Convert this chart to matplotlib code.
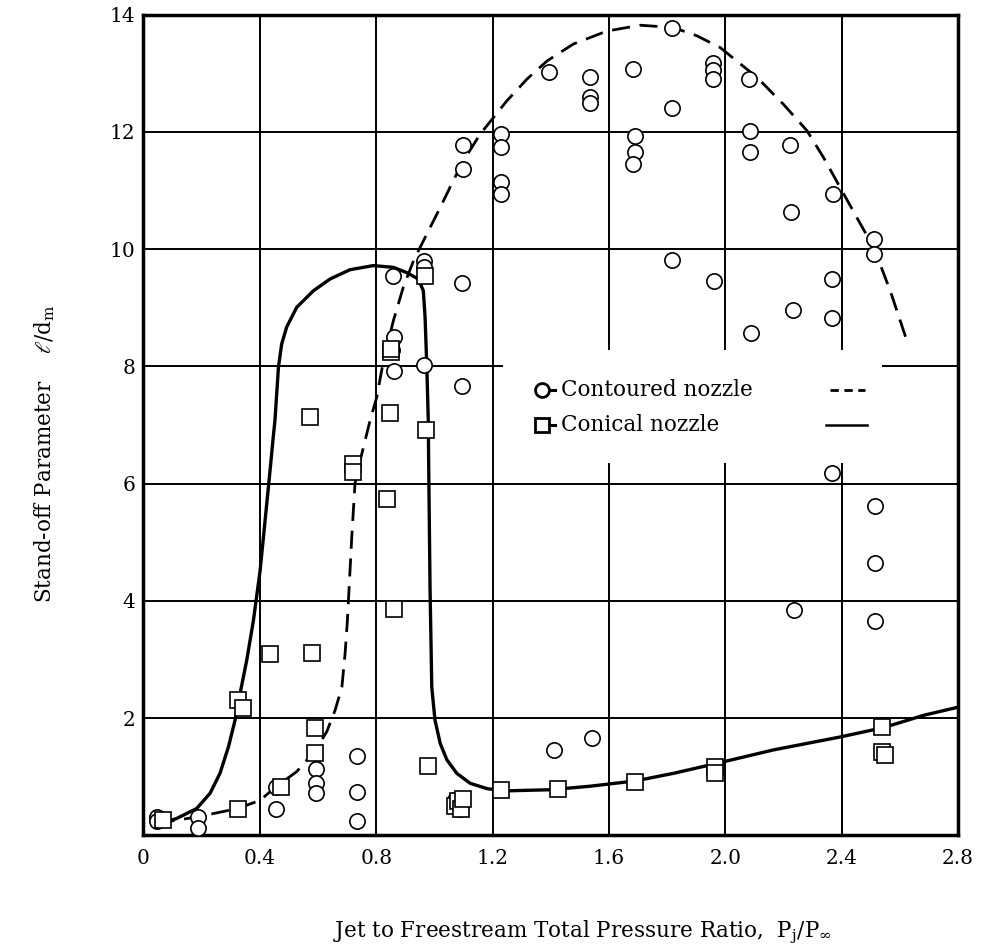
import matplotlib.pyplot as plt
from matplotlib.patches import Rectangle

plt.rcParams['font.family'] = 'DejaVu Serif'
plt.rcParams['mathtext.fontset'] = 'dejavuserif'

# contoured nozzle (circles)
cont_x = [0.045, 0.045, 0.188, 0.188, 0.455, 0.455, 0.592, 0.592, 0.592, 0.733, 0.733, 0.733,
          0.859, 0.862, 0.855, 0.862, 0.965, 0.965, 0.965, 1.077, 1.085, 1.07,
          1.097, 1.097, 1.096, 1.096, 1.228, 1.228, 1.228, 1.228, 1.394, 1.412,
          1.535, 1.535, 1.535, 1.543, 1.683, 1.689, 1.689, 1.683, 1.816, 1.816, 1.818,
          1.959, 1.959, 1.959, 1.96, 2.082, 2.084, 2.084, 2.088, 2.223, 2.227, 2.232, 2.237,
          2.369, 2.367, 2.367, 2.367, 2.51, 2.51, 2.515, 2.515, 2.515]
cont_y = [0.32, 0.24, 0.32, 0.12, 0.83, 0.45, 1.14, 0.89, 0.73, 1.36, 0.75, 0.24,
          9.55, 8.51, 8.28, 7.93, 9.80, 9.69, 8.03, 0.55, 0.45, 0.60,
          11.77, 11.37, 9.42, 7.66, 11.97, 11.75, 11.14, 10.94, 13.03, 1.46,
          12.94, 12.59, 12.50, 1.66, 13.07, 11.93, 11.65, 11.45, 13.78, 12.40, 9.82,
          13.17, 13.06, 12.90, 9.46, 12.90, 12.02, 11.65, 8.57, 11.78, 10.64, 8.96, 3.84,
          10.94, 9.49, 8.82, 6.19, 10.18, 9.91, 5.62, 4.65, 3.65]

# conical nozzle (squares)
coni_x = [0.068, 0.324, 0.326, 0.341, 0.435, 0.472, 0.573, 0.578, 0.59, 0.59,
          0.721, 0.721, 0.836, 0.849, 0.852, 0.852, 0.861, 0.968, 0.970, 0.979,
          1.07, 1.08, 1.09, 1.10, 1.229, 1.424, 1.69, 1.963, 1.963, 2.538, 2.538, 2.55]
coni_y = [0.27, 0.45, 2.31, 2.17, 3.10, 0.83, 7.13, 3.12, 1.84, 1.40,
          6.34, 6.20, 5.74, 7.20, 8.24, 8.30, 3.86, 9.55, 6.91, 1.18,
          0.50, 0.58, 0.45, 0.62, 0.78, 0.80, 0.91, 1.17, 1.07, 1.85, 1.43, 1.37]

# faired curves
cont_curve_x = [0.045, 0.114, 0.188, 0.324, 0.401, 0.455, 0.527, 0.592, 0.63, 0.659, 0.682,
                0.693, 0.701, 0.71, 0.716, 0.727, 0.745, 0.756, 0.779, 0.802, 0.825, 0.859,
                0.893, 0.928, 0.962, 1.02, 1.065, 1.10, 1.157, 1.249, 1.318, 1.387,
                1.478, 1.593, 1.707, 1.822, 1.902, 1.982, 2.109, 2.2, 2.281, 2.338, 2.395,
                2.452, 2.51, 2.567, 2.624]
cont_curve_y = [0.21, 0.26, 0.32, 0.46, 0.60, 0.83, 1.09, 1.46, 1.77, 2.14, 2.53,
                3.10, 3.67, 4.52, 5.09, 6.0, 6.40, 6.62, 7.08, 7.48, 8.10, 8.78,
                9.35, 9.80, 10.14, 10.71, 11.17, 11.51, 11.96, 12.53, 12.90, 13.21,
                13.5, 13.72, 13.82, 13.78, 13.64, 13.44, 12.93, 12.47, 12.02, 11.56, 11.05,
                10.54, 10.03, 9.29, 8.44]

coni_curve_x = [0.045, 0.114, 0.183, 0.229, 0.263, 0.292, 0.315, 0.332, 0.355, 0.378, 0.401,
                0.418, 0.435, 0.446, 0.452, 0.464, 0.475, 0.492, 0.527, 0.584, 0.641, 0.71,
                0.79, 0.859, 0.905, 0.945, 0.962, 0.968, 0.974, 0.979, 0.98, 0.985, 0.991,
                1.002, 1.02, 1.043, 1.077, 1.123, 1.18, 1.237, 1.398, 1.535, 1.69, 1.822,
                1.971, 2.166, 2.395, 2.544, 2.682, 2.802]
coni_curve_y = [0.18, 0.29, 0.46, 0.72, 1.06, 1.51, 1.97, 2.42, 2.99, 3.67, 4.52,
                5.37, 6.22, 6.79, 7.08, 7.99, 8.38, 8.67, 9.01, 9.29, 9.49, 9.65,
                9.72, 9.69, 9.60, 9.49, 9.29, 8.84, 7.99, 7.08, 6.51, 4.24, 2.53,
                1.97, 1.57, 1.29, 1.06, 0.89, 0.80, 0.76, 0.78, 0.84, 0.93, 1.06,
                1.23, 1.46, 1.68, 1.84, 2.05, 2.19]

xticks = [0, 0.4, 0.8, 1.2, 1.6, 2.0, 2.4, 2.8]
xticklabels = ['0', '0.4', '0.8', '1.2', '1.6', '2.0', '2.4', '2.8']
yticks = [2, 4, 6, 8, 10, 12, 14]

fig = plt.figure(figsize=(9.82, 9.52), dpi=100)
ax = fig.add_axes([0.1461, 0.1224, 0.8295, 0.8622])

ax.set_xlim(0, 2.8)
ax.set_ylim(0, 14)
ax.set_xticks(xticks)
ax.set_xticklabels(xticklabels)
ax.set_yticks(yticks)
ax.tick_params(length=0, labelsize=14.5)
ax.tick_params(axis='x', pad=10)
ax.tick_params(axis='y', pad=6)
ax.grid(True, color='black', linewidth=1.4)
ax.set_axisbelow(True)
for s in ax.spines.values():
    s.set_linewidth(2.5)

# white box behind legend, cuts the grid
ax.add_patch(Rectangle((0.441, 0.454), 0.466, 0.137, transform=ax.transAxes,
                       facecolor='white', edgecolor='none', zorder=1.5))

ax.plot(cont_curve_x, cont_curve_y, color='black', linewidth=2.0,
        dashes=(6.5, 3.5), zorder=2)
ax.plot(coni_curve_x, coni_curve_y, color='black', linewidth=2.4,
        solid_joinstyle='round', zorder=2)

ax.plot(cont_x, cont_y, 'o', markersize=11, markerfacecolor='white',
        markeredgecolor='black', markeredgewidth=1.2, zorder=3)
ax.plot(coni_x, coni_y, 's', markersize=11, markerfacecolor='white',
        markeredgecolor='black', markeredgewidth=1.2, zorder=3)

# legend
for yy, mk, label, ls in [(0.543, 'o', 'Contoured nozzle', '--'),
                          (0.500, 's', 'Conical nozzle', '-')]:
    ax.plot([0.489], [yy], mk, markersize=10, markerfacecolor='white',
            markeredgecolor='black', markeredgewidth=2, transform=ax.transAxes, zorder=4)
    ax.plot([0.498, 0.505], [yy, yy], color='black', linewidth=2.2,
            transform=ax.transAxes, zorder=4)
    ax.text(0.512, yy, label, transform=ax.transAxes, fontsize=15.5,
            va='center', ha='left', zorder=4)
    if ls == '--':
        ax.plot([0.843, 0.886], [yy, yy], color='black', linewidth=2.0,
                dashes=(3, 2), transform=ax.transAxes, zorder=4)
    else:
        ax.plot([0.838, 0.888], [yy, yy], color='black', linewidth=1.8,
                transform=ax.transAxes, zorder=4)

fig.text(0.046, 0.524, r'Stand-off Parameter    $\ell$/d$_{\rm m}$', rotation=90,
         fontsize=15.5, ha='center', va='center')
fig.text(0.593, 0.021, r'Jet to Freestream Total Pressure Ratio,  P$_{\rm j}$/P$_{\infty}$',
         fontsize=15.5, ha='center', va='center')

fig.savefig('out.png', dpi=100)
